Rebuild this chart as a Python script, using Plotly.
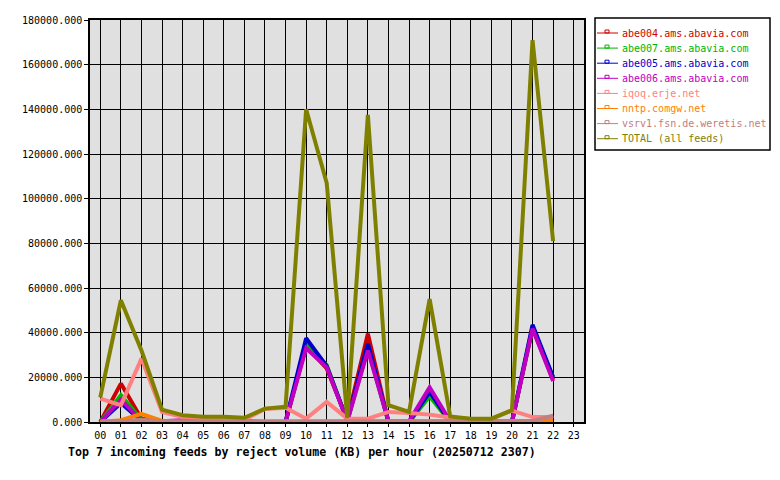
import plotly.graph_objects as go

# hours 00..22 (no data yet for 23)
hours = list(range(23))
hour_labels = ["%02d" % h for h in range(24)]

abe004 = [0, 17200, 1500, 0, 0, 0, 0, 0, 0, 0, 34000, 24000, 1000, 39500, 0, 0, 12000, 0, 0, 0, 0, 42000, 19000]
abe007 = [0, 12000, 1000, 0, 0, 0, 0, 0, 0, 0, 35000, 25500, 500, 33000, 0, 0, 11500, 0, 0, 0, 0, 42500, 20000]
abe005 = [0, 8500, 500, 0, 0, 0, 0, 0, 0, 0, 37500, 25000, 500, 35000, 0, 0, 13500, 0, 0, 0, 0, 43500, 20000]
abe006 = [0, 10000, 500, 300, 800, 500, 300, 500, 0, 0, 33000, 24500, 300, 32000, 300, 300, 15500, 300, 0, 0, 0, 41800, 18300]
iqoq = [10500, 7500, 28400, 4500, 2200, 1500, 1200, 1000, 5800, 6400, 1500, 9000, 1500, 1500, 4500, 4000, 3300, 2000, 1300, 1300, 5100, 2200, 2200]
nntp = [0, 800, 3700, 500, 0, 0, 0, 0, 0, 0, 0, 0, 0, 0, 0, 0, 0, 0, 0, 0, 0, 0, 700]
vsrv1 = [300, 300, 1000, 300, 300, 300, 300, 300, 300, 300, 300, 300, 300, 300, 300, 300, 300, 300, 300, 300, 300, 500, 2800]
total = [11000, 54500, 32000, 5500, 3000, 2300, 2300, 1900, 6000, 6800, 140000, 107000, 1800, 137500, 7500, 4500, 55000, 2500, 1500, 1500, 5300, 171000, 81000]

names = ["abe004.ams.abavia.com", "abe007.ams.abavia.com", "abe005.ams.abavia.com",
         "abe006.ams.abavia.com", "iqoq.erje.net", "nntp.comgw.net",
         "vsrv1.fsn.de.weretis.net", "TOTAL (all feeds)"]
series = [abe004, abe007, abe005, abe006, iqoq, nntp, vsrv1, total]
colors = ["#cc0000", "#00b400", "#0000cc", "#c000c0", "#ff8080", "#ff8000", "#c08080", "#808000"]

FONT = "DejaVu Sans Mono"

# plot area in pixels
L, T, W, H = 90, 20, 494, 402

def px(x):
    return (x - L) / W

def py(y):
    return (T + H - y) / H

fig = go.Figure()
for name, vals, col in zip(names, series, colors):
    fig.add_trace(go.Scatter(x=hours, y=vals, name=name, mode="lines",
                             line=dict(color=col, width=4), showlegend=False))

# hand-made legend, the plotly one is too loose
shapes = [dict(type="rect", xref="paper", yref="paper",
               x0=px(595), x1=px(770), y0=py(150), y1=py(18),
               line=dict(color="black", width=1.5), fillcolor="white", layer="below")]
annotations = []
for i, (name, col) in enumerate(zip(names, colors)):
    yy = 33 + i * 15.1
    shapes.append(dict(type="line", xref="paper", yref="paper",
                       x0=px(597), x1=px(618), y0=py(yy), y1=py(yy),
                       line=dict(color=col, width=1)))
    shapes.append(dict(type="rect", xref="paper", yref="paper",
                       x0=px(605), x1=px(609), y0=py(yy), y1=py(yy - 3),
                       line=dict(color=col, width=1)))
    annotations.append(dict(text=name, xref="paper", yref="paper", x=px(620), y=py(yy),
                            xanchor="left", yanchor="middle", showarrow=False,
                            font=dict(family=FONT, size=10, color=col)))

annotations.append(dict(text="<b>Top 7 incoming feeds by reject volume (KB) per hour (20250712 2307)</b>",
                        xref="paper", yref="paper", x=px(66), y=py(452),
                        xanchor="left", yanchor="middle", showarrow=False,
                        font=dict(family=FONT, size=11.6, color="black")))

fig.update_layout(
    width=780, height=480,
    margin=dict(l=L, r=780 - L - W, t=T, b=480 - T - H),
    paper_bgcolor="white", plot_bgcolor="#e0e0e0",
    font=dict(family=FONT, size=10, color="black"),
    shapes=shapes, annotations=annotations,
    xaxis=dict(range=[-0.5, 23.5], tickvals=list(range(24)), ticktext=hour_labels,
               showgrid=True, gridcolor="black", gridwidth=1,
               showline=True, linecolor="black", linewidth=1.5, mirror=True,
               ticks="outside", ticklen=3, tickcolor="black", zeroline=False),
    yaxis=dict(range=[0, 180000], dtick=20000, tickformat=".3f",
               showgrid=True, gridcolor="black", gridwidth=1,
               showline=True, linecolor="black", linewidth=1.5, mirror=True,
               ticks="outside", ticklen=4, tickcolor="black", zeroline=False),
)

# page body has an 8px margin by default, drop it so the figure sits at 0,0
fig.write_html("out.html", config={"displayModeBar": False},
               post_script="document.body.style.margin='0';")
